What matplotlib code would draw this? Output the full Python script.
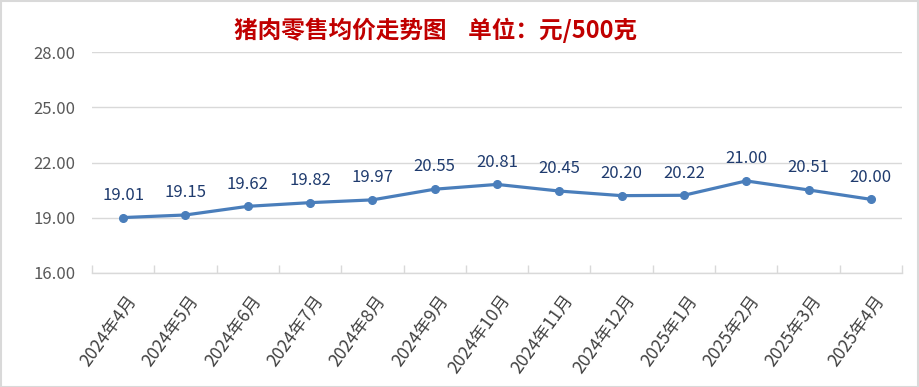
import matplotlib
matplotlib.use("Agg")
import matplotlib.pyplot as plt
from matplotlib.patches import Rectangle
from matplotlib.transforms import ScaledTranslation, blended_transform_factory

plt.rcParams['font.family'] = ['Noto Sans CJK SC', 'DejaVu Sans']

months = ["2024年4月", "2024年5月", "2024年6月", "2024年7月", "2024年8月", "2024年9月",
          "2024年10月", "2024年11月", "2024年12月", "2025年1月", "2025年2月", "2025年3月", "2025年4月"]
prices = [19.01, 19.15, 19.62, 19.82, 19.97, 20.55, 20.81, 20.45, 20.20, 20.22, 21.00, 20.51, 20.00]
yticks = [16, 19, 22, 25, 28]
title = "猪肉零售均价走势图    单位：元/500克"

fig = plt.figure(figsize=(9.2, 3.87), dpi=100)
fig.patches.append(Rectangle((0.001, 0.001), 0.997, 0.996, transform=fig.transFigure,
                             fill=False, edgecolor="#D9D9D9", linewidth=1.5))
ax = fig.add_axes([0.1, 0.2946, 0.8804, 0.571])

x = list(range(len(prices)))
ax.plot(x, prices, color="#4A7EBB", linewidth=2.3, marker="o", markersize=5.5, zorder=3)
for xi, v in zip(x, prices):
    ax.annotate(f"{v:.2f}", (xi, v), xytext=(0, 16), textcoords="offset points",
                ha="center", va="center", fontsize=12, color="#1F3B6E")

ax.set_ylim(16, 28)
ax.set_xlim(-0.5, len(prices) - 0.5)
ax.set_yticks(yticks)
ax.set_yticklabels([f"{t:.2f}" for t in yticks], fontsize=12, color="#595959")
ax.yaxis.grid(True, color="#D9D9D9", linewidth=1)
ax.set_axisbelow(True)
ax.tick_params(axis="y", length=0, pad=12)

ax.set_xticks(x)
ax.set_xticklabels([])
ax.tick_params(axis="x", which="major", length=0)
trans = blended_transform_factory(ax.transData, ax.transAxes) + \
    ScaledTranslation(10 / 100, -24 / 100, fig.dpi_scale_trans)
for xi, m in zip(x, months):
    ax.text(xi, 0, m, transform=trans, rotation=54, ha="right", va="center",
            rotation_mode="anchor", fontsize=12.5, color="#404040")
ax.set_xticks([i - 0.5 for i in range(len(prices) + 1)], minor=True)
ax.tick_params(axis="x", which="minor", length=6, direction="in", color="#D9D9D9", width=1)

for s in ["left", "right", "top"]:
    ax.spines[s].set_visible(False)
ax.spines["bottom"].set_color("#D9D9D9")
ax.spines["bottom"].set_linewidth(1)

fig.text(0.473, 0.922, title, ha="center", va="center", fontsize=17, fontweight="bold",
         color="#C00000")

fig.savefig("out.png", dpi=100)
